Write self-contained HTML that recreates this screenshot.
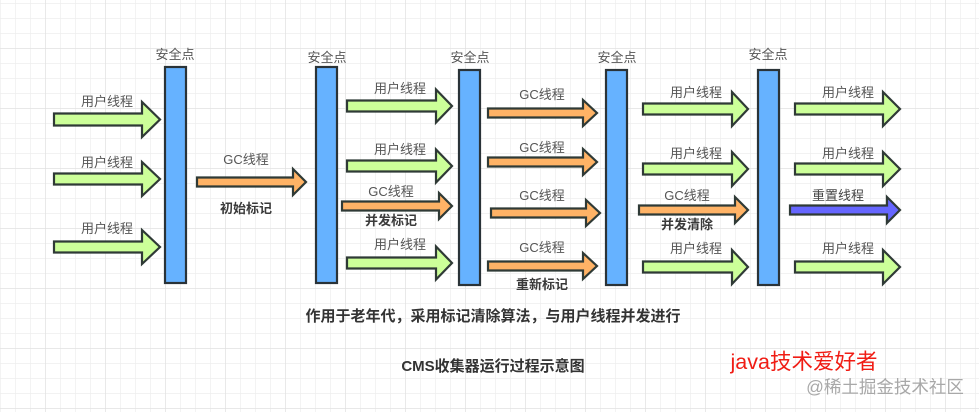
<!DOCTYPE html>
<html>
<head>
<meta charset="utf-8">
<style>
html,body{margin:0;padding:0;background:#fff;width:979px;height:412px;overflow:hidden}
svg{display:block}
text{font-family:"Liberation Sans","Noto Sans CJK SC",sans-serif;text-anchor:middle;font-size:13px;fill:#555}
.b{font-weight:bold;fill:#3a3a3a}
.t{font-weight:bold;fill:#333;font-size:15px}
.bar{fill:#66b2ff;stroke:#2a3338;stroke-width:2.2}
.g,.o,.p{stroke:#2f3a36;stroke-width:2.2;stroke-linejoin:miter}
.g{fill:#ccff99}
.o{fill:#ffb366}
.p{fill:#6666ff}
</style>
</head>
<body>
<svg width="979" height="412" viewBox="0 0 979 412" xmlns="http://www.w3.org/2000/svg">
<defs>
<pattern id="minor" width="15" height="15" patternUnits="userSpaceOnUse" x="0" y="3">
<path d="M15 0H0V15" fill="none" stroke="#eeeeee" stroke-width="1.4"/>
</pattern>
<pattern id="major" width="60" height="60" patternUnits="userSpaceOnUse" x="45" y="48">
<path d="M60 0H0V60" fill="none" stroke="#dfdfdf" stroke-width="1.2"/>
</pattern>
</defs>
<rect width="979" height="412" fill="#fff"/>
<rect width="979" height="412" fill="url(#minor)"/>
<rect width="979" height="412" fill="url(#major)"/>

<rect class="bar" x="165" y="67" width="21" height="216"/>
<rect class="bar" x="316" y="67" width="21" height="216"/>
<rect class="bar" x="459" y="70" width="21" height="215"/>
<rect class="bar" x="606" y="70" width="21" height="215"/>
<rect class="bar" x="758" y="70" width="21" height="215"/>

<polygon class="g" points="54,113.5 142,113.5 142,102 160,119.5 142,137 142,125.5 54,125.5"/>
<polygon class="g" points="54,173.5 142,173.5 142,162 160,179 142,196 142,184.5 54,184.5"/>
<polygon class="g" points="54,241.5 142,241.5 142,230 160,247 142,264 142,252.5 54,252.5"/>
<polygon class="o" points="197,177.5 293,177.5 293,169 306,182 293,195 293,186.5 197,186.5"/>

<polygon class="g" points="347,100.5 436,100.5 436,89.5 452,106 436,122.5 436,111.5 347,111.5"/>
<polygon class="g" points="347,160.5 436,160.5 436,149.5 452,166 436,182.5 436,171.5 347,171.5"/>
<polygon class="o" points="342,201.5 439,201.5 439,193 452,206 439,219 439,210.5 342,210.5"/>
<polygon class="g" points="347,257.5 436,257.5 436,246.5 452,263 436,279.5 436,268.5 347,268.5"/>

<polygon class="o" points="488,108.5 583,108.5 583,100 597,113 583,126 583,117.5 488,117.5"/>
<polygon class="o" points="488,157.5 583,157.5 583,149 597,162 583,175 583,166.5 488,166.5"/>
<polygon class="o" points="491,208.5 586,208.5 586,200 600,213 586,226 586,217.5 491,217.5"/>
<polygon class="o" points="488,261.5 583,261.5 583,253 597,266 583,279 583,270.5 488,270.5"/>

<polygon class="g" points="643,103.5 732,103.5 732,92 748,109 732,126 732,114.5 643,114.5"/>
<polygon class="g" points="643,163.5 732,163.5 732,152 748,169 732,186 732,174.5 643,174.5"/>
<polygon class="o" points="639,205.5 735,205.5 735,197 748,210 735,223 735,214.5 639,214.5"/>
<polygon class="g" points="643,261.5 732,261.5 732,250 748,267 732,284 732,272.5 643,272.5"/>

<polygon class="g" points="795,103.5 883,103.5 883,92 900,109 883,126 883,114.5 795,114.5"/>
<polygon class="g" points="795,163.5 883,163.5 883,152 900,169 883,186 883,174.5 795,174.5"/>
<polygon class="p" points="790,205.5 887,205.5 887,197 900,210 887,223 887,214.5 790,214.5"/>
<polygon class="g" points="795,261.5 883,261.5 883,250 900,267 883,284 883,272.5 795,272.5"/>

<text x="175" y="59">安全点</text>
<text x="327" y="62">安全点</text>
<text x="470" y="62">安全点</text>
<text x="617" y="62">安全点</text>
<text x="768" y="59">安全点</text>

<text x="107" y="106">用户线程</text>
<text x="107" y="167">用户线程</text>
<text x="107" y="233">用户线程</text>
<text x="246" y="164">GC线程</text>
<text class="b" x="246" y="213">初始标记</text>

<text x="400" y="93">用户线程</text>
<text x="400" y="154">用户线程</text>
<text x="391" y="196">GC线程</text>
<text class="b" x="391" y="225">并发标记</text>
<text x="400" y="249">用户线程</text>

<text x="542" y="99">GC线程</text>
<text x="542" y="152">GC线程</text>
<text x="542" y="200">GC线程</text>
<text x="542" y="252">GC线程</text>
<text class="b" x="542" y="289">重新标记</text>

<text x="696" y="97">用户线程</text>
<text x="696" y="158">用户线程</text>
<text x="687" y="200">GC线程</text>
<text class="b" x="687" y="229">并发清除</text>
<text x="696" y="253">用户线程</text>

<text x="848" y="97">用户线程</text>
<text x="848" y="158">用户线程</text>
<text x="838" y="200" style="fill:#444">重置线程</text>
<text x="848" y="253">用户线程</text>

<text class="t" x="493" y="321">作用于老年代，采用标记清除算法，与用户线程并发进行</text>
<text class="t" x="493" y="371">CMS收集器运行过程示意图</text>
<text x="804" y="369" style="font-size:21.5px;fill:#f01c14">java技术爱好者</text>
<text x="885" y="393" style="font-size:17.5px;fill:#a8a8a8">@稀土掘金技术社区</text>
</svg>
</body>
</html>
